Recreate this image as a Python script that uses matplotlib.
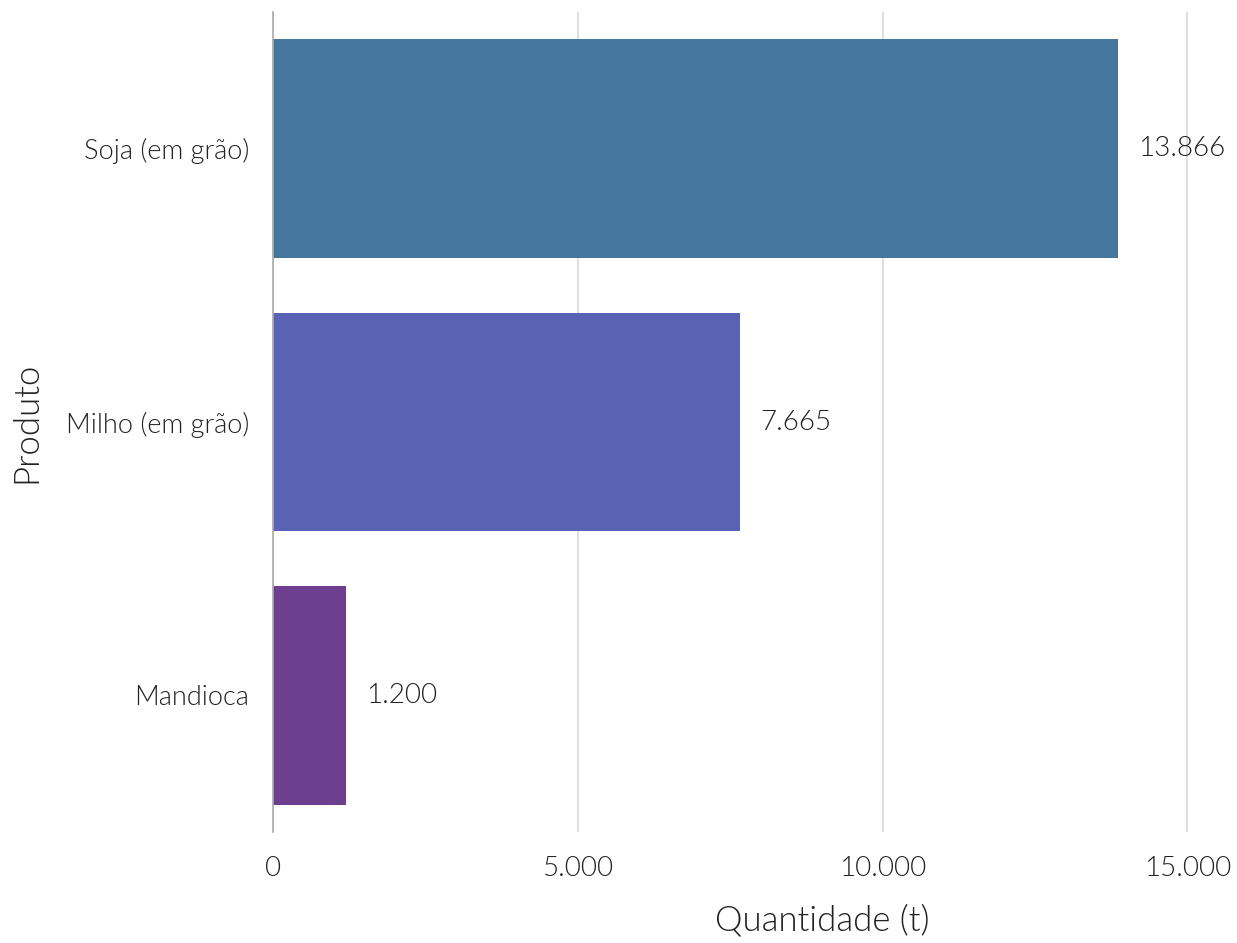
import matplotlib
matplotlib.use("Agg")
import matplotlib.pyplot as plt
from matplotlib.ticker import FuncFormatter

produtos = ["Soja (em grão)", "Milho (em grão)", "Mandioca"]
quantidades = [13866, 7665, 1200]
cores = ["#44769e", "#5a62b5", "#6e3e8f"]

plt.rcParams["font.family"] = ["Lato", "DejaVu Sans"]
plt.rcParams["font.weight"] = 300
plt.rcParams["axes.labelweight"] = 300

fig = plt.figure(figsize=(12.37, 9.43), dpi=100)
ax = fig.add_axes([273 / 1237, 111 / 943, (1237 - 273 - 5) / 1237, 820 / 943])

pos = list(range(len(produtos)))
ax.barh(pos, quantidades, height=0.8, color=cores, zorder=2)
ax.set_ylim(2.5, -0.5)
ax.set_xlim(0, 15730)
ax.set_yticks(pos)
ax.set_yticklabels(produtos)

def fmt(v):
    return f"{int(v):,}".replace(",", ".")

for p, q in zip(pos, quantidades):
    ax.text(q + 330, p, fmt(q), va="center", ha="left", fontsize=20,
            color="#222222", fontweight=300, zorder=3)

ax.set_xticks([0, 5000, 10000, 15000])
ax.xaxis.set_major_formatter(FuncFormatter(lambda v, _: fmt(v)))
ax.grid(axis="x", color="#d9d9d9", linewidth=1.2, zorder=0)
ax.set_axisbelow(True)
for s in ["top", "right", "bottom"]:
    ax.spines[s].set_visible(False)
ax.spines["left"].set_color("#aaaaaa")
ax.spines["left"].set_linewidth(1.2)
ax.tick_params(axis="y", length=0, pad=17, labelsize=19.5, labelcolor="#222222")
ax.tick_params(axis="x", length=0, pad=17, labelsize=20, labelcolor="#222222")

ax.set_xlabel("Quantidade (t)", fontsize=25, color="#222222", fontweight=300)
ax.set_ylabel("Produto", fontsize=25, color="#222222", fontweight=300)
ax.xaxis.set_label_coords((822 - 273) / (1237 - 273 - 5), -0.088)
ax.yaxis.set_label_coords(-0.24, 0.5)

fig.savefig("out.png", dpi=100)
